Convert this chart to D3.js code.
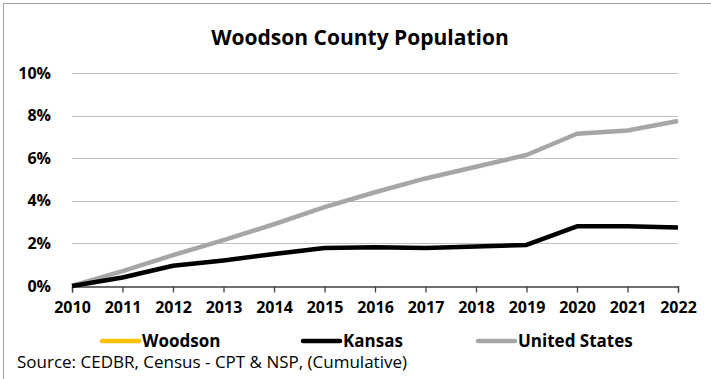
<!DOCTYPE html>
<html>
<head>
<meta charset="utf-8">
<script src="https://cdn.jsdelivr.net/npm/d3@7"></script>
<style>
  body { margin: 0; background: #fff; }
  svg { display: block; font-family: "Open Sans", Lato, sans-serif; }
</style>
</head>
<body>
<svg id="chart" width="711" height="379"></svg>
<script>
// Data (cumulative % change since 2010)
const years = [2010, 2011, 2012, 2013, 2014, 2015, 2016, 2017, 2018, 2019, 2020, 2021, 2022];
const woodson = []; // below the 0% axis minimum, not visible in the chart
const kansas = [0, 0.4, 0.95, 1.2, 1.5, 1.78, 1.82, 1.78, 1.85, 1.93, 2.8, 2.8, 2.75];
const unitedStates = [0, 0.7, 1.45, 2.15, 2.9, 3.7, 4.4, 5.05, 5.6, 6.15, 7.15, 7.3, 7.75];
const yTicks = [0, 2, 4, 6, 8, 10];

const seriesList = [
    { name: "Woodson", values: woodson, color: "#ffc000" },
    { name: "Kansas", values: kansas, color: "#000000" },
    { name: "United States", values: unitedStates, color: "#a6a6a6" }
];

const svg = d3.select("#chart");

// outer frame
svg.append("rect")
    .attr("x", 3.5).attr("y", 3.5)
    .attr("width", 760).attr("height", 420)
    .attr("fill", "none")
    .attr("stroke", "#a0a0a0");

const x = d3.scaleLinear().domain([2010, 2022]).range([72, 678]);
const y = d3.scaleLinear().domain([0, 10]).range([286, 73]);

// title
svg.append("text")
    .attr("x", 360).attr("y", 45)
    .attr("text-anchor", "middle")
    .style("font-size", "21px")
    .style("font-weight", "bold")
    .text("Woodson County Population");

// gridlines
svg.append("g")
    .selectAll("line")
    .data(yTicks.filter(d => d > 0))
    .join("line")
    .attr("x1", 72).attr("x2", 678)
    .attr("y1", d => Math.round(y(d)) + 0.5)
    .attr("y2", d => Math.round(y(d)) + 0.5)
    .attr("stroke", "#bfbfbf")
    .attr("stroke-width", 1);

// y labels
svg.append("g")
    .selectAll("text")
    .data(yTicks)
    .join("text")
    .attr("x", 51)
    .attr("y", d => y(d))
    .attr("dy", "0.35em")
    .attr("text-anchor", "end")
    .style("font-size", "16px")
    .style("font-weight", "bold")
    .text(d => d + "%");

// x axis
const xAxis = svg.append("g")
    .attr("transform", "translate(0,286.5)")
    .call(d3.axisBottom(x)
        .tickValues(years)
        .tickFormat(d3.format("d"))
        .tickSize(6)
        .tickSizeOuter(6)
        .tickPadding(9));
xAxis.select(".domain").attr("stroke", "#404040").attr("stroke-width", 1.3);
xAxis.selectAll(".tick line").attr("stroke", "#404040").attr("stroke-width", 1.3);
xAxis.selectAll(".tick text")
    .attr("fill", "#000")
    .style("font-family", "'Open Sans', Lato, sans-serif")
    .style("font-size", "16px")
    .style("font-weight", "bold");

// lines
const line = d3.line()
    .x((d, i) => x(years[i]))
    .y(d => y(d));

svg.append("g")
    .selectAll("path")
    .data(seriesList.slice().reverse())
    .join("path")
    .attr("d", d => d.values.length ? line(d.values) : null)
    .attr("fill", "none")
    .attr("stroke", d => d.color)
    .attr("stroke-width", 4.5)
    .attr("stroke-linejoin", "round");

// legend
const legendX = [102, 303, 478];
const legend = svg.append("g")
    .selectAll("g")
    .data(seriesList)
    .join("g")
    .attr("transform", (d, i) => `translate(${legendX[i]},341)`);

legend.append("line")
    .attr("x1", 0).attr("x2", 37)
    .attr("stroke", d => d.color)
    .attr("stroke-width", 4.5)
    .attr("stroke-linecap", "round");

legend.append("text")
    .attr("x", 40)
    .attr("dy", "0.35em")
    .style("font-size", "17px")
    .style("font-weight", "bold")
    .text(d => d.name);

// source note
svg.append("text")
    .attr("x", 17).attr("y", 368)
    .style("font-size", "17px")
    .text("Source: CEDBR, Census - CPT & NSP, (Cumulative)");
</script>
</body>
</html>
